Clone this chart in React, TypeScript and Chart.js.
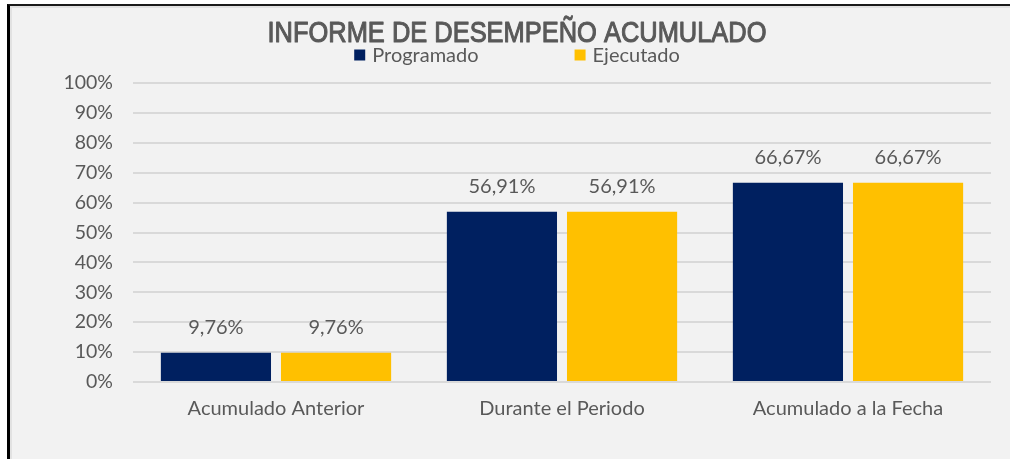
import React, { useEffect, useRef } from "react";
import { Chart, registerables } from "chart.js";

Chart.register(...registerables);

const TITLE = "INFORME DE DESEMPEÑO ACUMULADO";
const categories = ["Acumulado Anterior", "Durante el Periodo", "Acumulado a la Fecha"];
const seriesNames = ["Programado", "Ejecutado"];
const programado = [9.76, 56.91, 66.67];
const ejecutado = [9.76, 56.91, 66.67];
const seriesColors = ["#002060", "#FFC000"];
const yMin = 0;
const yMax = 100;
const yStep = 10;

const TEXT = "#595959";
const FONT = "Lato, 'Noto Sans', sans-serif";

const fmt = (v: number) => v.toFixed(2).replace(".", ",") + "%";

const headerPlugin = {
  id: "header",
  afterDraw(chart: any) {
    const ctx = chart.ctx;
    const cx = 517;
    ctx.save();
    // title
    ctx.fillStyle = TEXT;
    ctx.strokeStyle = TEXT;
    ctx.textAlign = "center";
    ctx.textBaseline = "alphabetic";
    ctx.font = "30px 'Liberation Sans Narrow', 'Arial Narrow', 'Liberation Sans', sans-serif";
    const w = ctx.measureText(TITLE).width;
    const target = 499;
    const sx = w > target * 1.04 || w < target * 0.96 ? target / w : 1;
    ctx.save();
    ctx.translate(cx, 42);
    ctx.scale(sx, 1);
    ctx.lineWidth = 1.1;
    ctx.lineJoin = "round";
    ctx.fillText(TITLE, 0, 0);
    ctx.strokeText(TITLE, 0, 0);
    ctx.restore();
    // legend
    ctx.font = `20px ${FONT}`;
    ctx.textAlign = "left";
    ctx.textBaseline = "middle";
    const box = 11;
    const gapBox = 7;
    const gapItems = 96;
    const items = chart.data.datasets.map((d: any) => ({
      text: d.label,
      color: d.backgroundColor,
      w: box + gapBox + ctx.measureText(d.label).width,
    }));
    const total = items.reduce((a: number, it: any) => a + it.w, 0) + gapItems * (items.length - 1);
    let x = cx - total / 2;
    const y = 55;
    items.forEach((it: any) => {
      ctx.fillStyle = it.color;
      ctx.fillRect(x, y - box / 2, box, box);
      ctx.fillStyle = TEXT;
      ctx.fillText(it.text, x + box + gapBox, y + 1);
      x += it.w + gapItems;
    });
    ctx.restore();
  },
};

const labelPlugin = {
  id: "valueLabels",
  afterDatasetsDraw(chart: any) {
    const ctx = chart.ctx;
    ctx.save();
    ctx.font = `20px ${FONT}`;
    ctx.fillStyle = TEXT;
    ctx.textAlign = "center";
    ctx.textBaseline = "middle";
    chart.data.datasets.forEach((ds: any, i: number) => {
      const meta = chart.getDatasetMeta(i);
      meta.data.forEach((bar: any, j: number) => {
        ctx.fillText(fmt(ds.data[j]), bar.x, bar.y - 25);
      });
    });
    ctx.restore();
  },
};

export default function App() {
  const ref = useRef<HTMLCanvasElement | null>(null);

  useEffect(() => {
    if (!ref.current) return;
    const chart = new Chart(ref.current, {
      type: "bar",
      data: {
        labels: categories,
        datasets: [
          { label: seriesNames[0], data: programado, backgroundColor: seriesColors[0] },
          { label: seriesNames[1], data: ejecutado, backgroundColor: seriesColors[1] },
        ],
      },
      options: {
        responsive: false,
        animation: false,
        devicePixelRatio: 1,
        categoryPercentage: 0.84,
        barPercentage: 0.917,
        layout: { padding: { left: 0, right: 19, top: 83, bottom: 0 } },
        plugins: {
          legend: { display: false },
          title: { display: false },
          tooltip: { enabled: false },
        },
        scales: {
          x: {
            grid: { display: false, drawTicks: false },
            border: { display: false },
            ticks: { color: TEXT, font: { family: FONT, size: 20 }, padding: 15 },
            afterFit: (s: any) => {
              s.height = 77;
            },
          },
          y: {
            min: yMin,
            max: yMax,
            grid: { color: "#D9D9D9", lineWidth: 2, drawTicks: false },
            border: { display: false },
            ticks: {
              stepSize: yStep,
              color: TEXT,
              font: { family: FONT, size: 19.5 },
              padding: 20,
              callback: (v: any) => v + "%",
            },
            afterFit: (s: any) => {
              s.width = 133;
            },
          },
        },
      },
      plugins: [headerPlugin, labelPlugin],
    } as any);
    return () => chart.destroy();
  }, []);

  return (
    <div
      style={{
        position: "fixed",
        left: 0,
        top: 0,
        width: 1010,
        height: 459,
        background: "#FFFFFF",
        overflow: "hidden",
      }}
    >
      <div
        style={{
          position: "absolute",
          left: 7,
          top: 4,
          width: 1003,
          height: 455,
          boxSizing: "border-box",
          background: "#F2F2F2",
          borderLeft: "3px solid #000000",
          borderTop: "2px solid #1A1A1A",
          boxShadow: "inset 2px 2px 0 #E2E2E2",
        }}
      />
      <canvas
        ref={ref}
        width={1010}
        height={459}
        style={{ position: "absolute", left: 0, top: 0, width: 1010, height: 459 }}
      />
    </div>
  );
}
